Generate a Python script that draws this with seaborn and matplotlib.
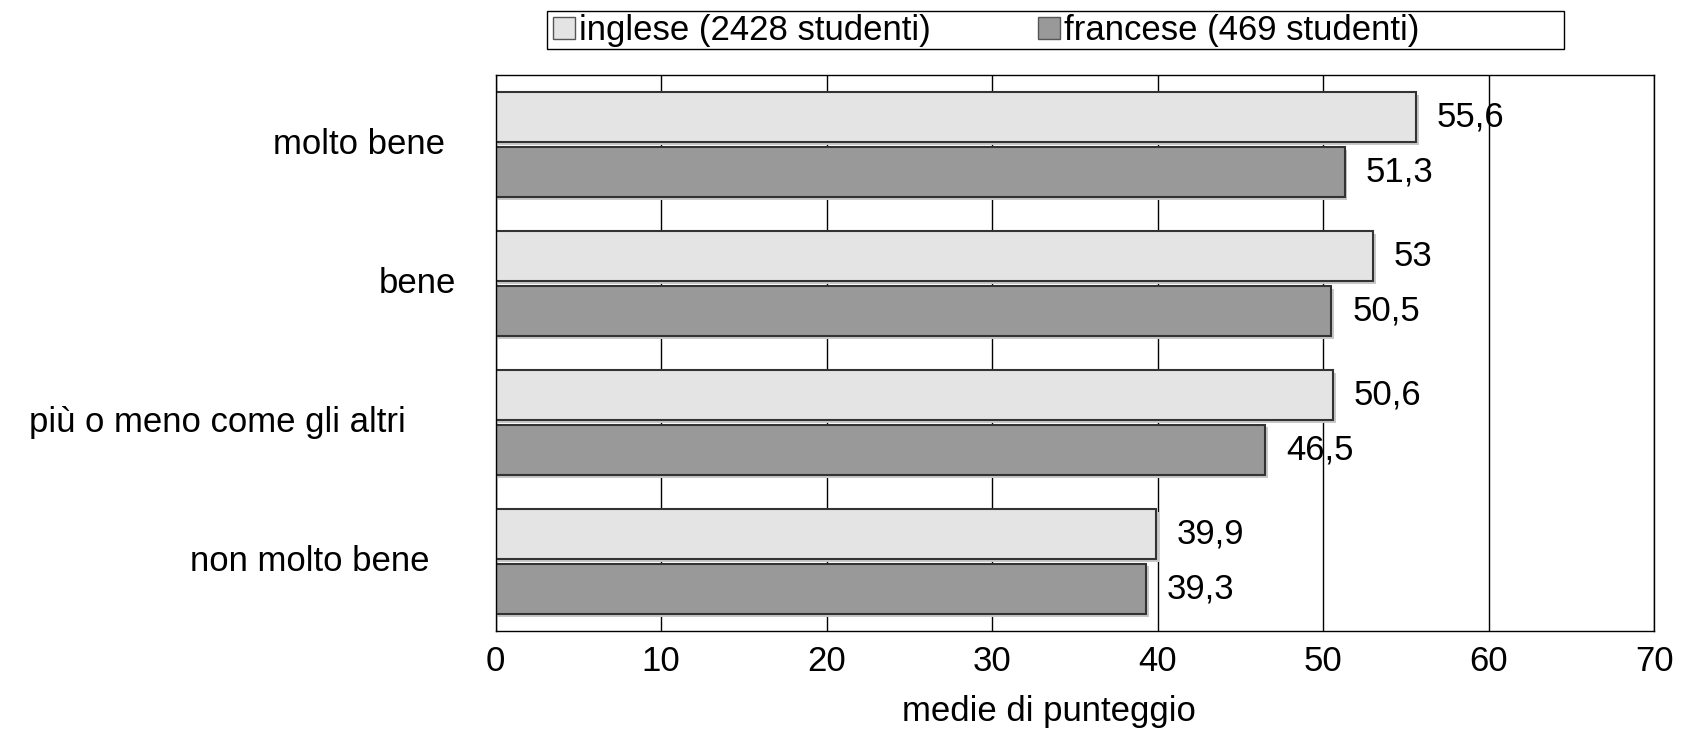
import pandas as pd
import matplotlib.pyplot as plt
import matplotlib.patheffects as pe
import seaborn as sns

# dati
categorie = ["molto bene", "bene", "più o meno come gli altri", "non molto bene"]
inglese = [55.6, 53.0, 50.6, 39.9]
francese = [51.3, 50.5, 46.5, 39.3]
serie = ["inglese (2428 studenti)", "francese (469 studenti)"]
colori = ["#e4e4e4", "#999999"]

df = pd.DataFrame({
    "categoria": categorie * 2,
    "valore": inglese + francese,
    "lingua": [serie[0]] * 4 + [serie[1]] * 4,
})

sns.set_style("white")
plt.rcParams["font.family"] = ["Liberation Sans", "DejaVu Sans"]
for k in ["text.color", "axes.labelcolor", "xtick.color", "ytick.color"]:
    plt.rcParams[k] = "black"

fs = 25
fig = plt.figure(figsize=(16.82, 7.36), dpi=100)
ax = fig.add_axes([0.2947, 0.1427, 0.6887, 0.7553])

sns.barplot(data=df, y="categoria", x="valore", hue="lingua", orient="h",
            palette=colori, width=0.79, gap=0.08, ax=ax,
            edgecolor="#333333", linewidth=1.5, legend=False)

shadow = [pe.SimplePatchShadow(offset=(2, -2), shadow_rgbFace="#c8c8c8", alpha=1), pe.Normal()]
for p in ax.patches:
    p.set_path_effects(shadow)

# etichette dei valori con la virgola decimale
for cont in ax.containers:
    etichette = [f"{v:g}".replace(".", ",") for v in cont.datavalues]
    ax.bar_label(cont, labels=etichette, padding=15, fontsize=fs)

ax.set_xlim(0, 70)
ax.set_xticks(range(0, 71, 10))
ax.grid(axis="x", color="black", linewidth=1)
ax.set_axisbelow(True)
for s in ax.spines.values():
    s.set_color("black")
    s.set_linewidth(1)
ax.tick_params(axis="both", length=0, labelsize=fs)
ax.tick_params(axis="x", pad=10)

# etichette delle categorie, posizionate come nell'originale
ax.set_yticklabels([])
ax.set_ylabel("")
pos_x = [-0.0435, -0.034, -0.078, -0.057]
for i, (cat, px) in enumerate(zip(categorie, pos_x)):
    ax.text(px, i, cat, transform=ax.get_yaxis_transform(), ha="right",
            va="center", fontsize=fs)

ax.set_xlabel("medie di punteggio", fontsize=fs)
ax.xaxis.set_label_coords(0.478, -0.115)

# legenda in alto, con cornice rettangolare
fig.patches.append(plt.Rectangle((0.3252, 0.933), 0.6047, 0.0524, transform=fig.transFigure,
                                 facecolor="white", edgecolor="black", linewidth=1))
handles = [plt.Rectangle((0, 0), 1, 1, facecolor=c, edgecolor="#555555") for c in colori]
fig.legend(handles, serie, loc="center left", ncol=2, bbox_to_anchor=(0.329, 0.9585),
           fontsize=fs, frameon=False, handlelength=0.62, handleheight=0.62,
           handletextpad=0.12, columnspacing=3.1, borderpad=0, borderaxespad=0)

fig.savefig("out.png", dpi=100)
